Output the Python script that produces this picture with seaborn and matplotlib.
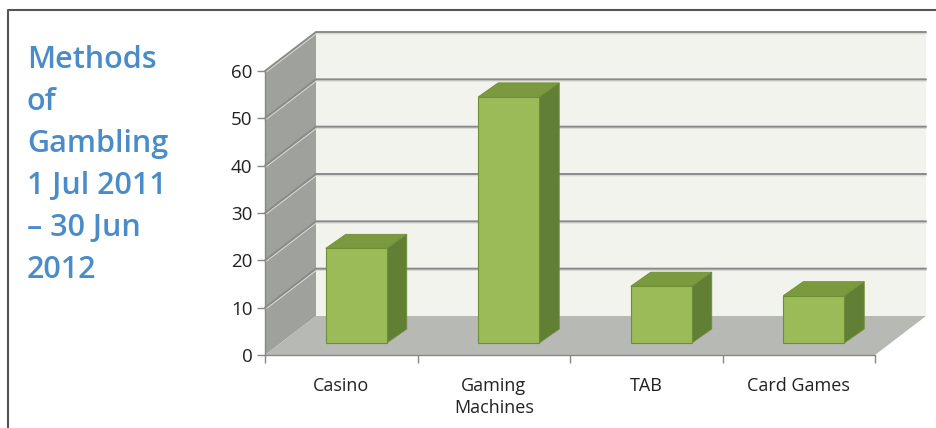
import numpy as np
import pandas as pd
import seaborn as sns
from matplotlib import pyplot as plt
from matplotlib.patches import Polygon
from matplotlib.transforms import IdentityTransform
from matplotlib.lines import Line2D

# Data.
methods = ["Casino", "Gaming\nMachines", "TAB", "Card Games"]
percent = [20, 52, 12, 10]
y_ticks = [0, 10, 20, 30, 40, 50, 60]
title_lines = ["Methods", "of", "Gambling", "1 Jul 2011", "\u2013 30 Jun", "2012"]

# Colours (Excel 2007 style 3D column).
FRONT = "#9bbb59"
TOP = "#7b9a40"
SIDE = "#627f36"
EDGE = "#6f8f35"
BACK_WALL = "#f1f3ec"
SIDE_WALL = "#9fa19d"
FLOOR = "#b7b9b5"
GRID = "#8a8a8a"
TITLE = "#4a8cca"

W, H, DPI = 936, 428, 100
WALL_DX, WALL_DY = 51, 39   # depth of the 3D box, pixels
BAR_DX, BAR_DY = 15, 12     # where the bars sit inside the box
TOP_DX, TOP_DY = 20, 14     # depth of each bar

sns.set_theme(style="white")
plt.rcParams["font.family"] = ["Open Sans", "DejaVu Sans"]

fig = plt.figure(figsize=(W / DPI, H / DPI), dpi=DPI)
ax = fig.add_axes([265 / W, (H - 355) / H, 610 / W, 284 / H])
ax.patch.set_visible(False)

df = pd.DataFrame({"method": methods, "percent": percent})
sns.barplot(data=df, x="method", y="percent", color=FRONT, width=0.4,
            saturation=1, ax=ax, zorder=5)
bars = list(ax.patches)

ax.set_xlim(-0.5, len(methods) - 0.5)
ax.set_ylim(0, 60)
ax.set_yticks(y_ticks)
ax.set_xlabel("")
ax.set_ylabel("")
for side in ["top", "right"]:
    ax.spines[side].set_visible(False)
for side in ["left", "bottom"]:
    ax.spines[side].set_color("#888888")
    ax.spines[side].set_linewidth(1.0)
ax.tick_params(axis="y", left=True, length=6, width=1, color="#888888",
               labelsize=13.5, pad=3, labelcolor="#222222")
ax.set_xticks(np.arange(-0.5, len(methods)), minor=True)
ax.tick_params(axis="x", which="minor", bottom=True, length=6, width=1, color="#888888")
ax.tick_params(axis="x", which="major", bottom=False, labelsize=13, pad=10,
               labelcolor="#222222")
for lab in ax.get_xticklabels():
    lab.set_linespacing(1.3)

fig.canvas.draw()
T = ax.transData
ident = IdentityTransform()


def add_poly(pts, color, z, ec="none", lw=0):
    p = Polygon(pts, closed=True, facecolor=color, edgecolor=ec, linewidth=lw,
                transform=ident, zorder=z, clip_on=False)
    ax.add_artist(p)


# The box: side wall, back wall, floor.
x0, x1 = ax.get_xlim()
fl, fr = T.transform((x0, 0)), T.transform((x1, 0))
tl = T.transform((x0, 60))
d = np.array([WALL_DX, WALL_DY])
add_poly([fl, fl + d, tl + d, tl], SIDE_WALL, 0)
add_poly([fl + d, fr + d, [fr[0] + WALL_DX, tl[1] + WALL_DY], tl + d], BACK_WALL, 0)
add_poly([fl, fr, fr + d, fl + d], FLOOR, 1)

for v in y_ticks[1:]:
    a = T.transform((x0, v))
    b = a + d
    c = np.array([fr[0] + WALL_DX, b[1]])
    ax.add_artist(Line2D([a[0], b[0], c[0]], [a[1] - 1.5, b[1] - 1.5, c[1] - 1.5],
                         color="#d8dad4", lw=1.2, transform=ident, zorder=2, clip_on=False))
    ax.add_artist(Line2D([a[0], b[0], c[0]], [a[1], b[1], c[1]], color=GRID, lw=1.4,
                         transform=ident, zorder=2, clip_on=False))

# Bars: move the seaborn faces into the box and give them a top and side.
for bar in bars:
    x, w, h = bar.get_x(), bar.get_width(), bar.get_height()
    bl = T.transform((x, 0)) + [BAR_DX, BAR_DY]
    br = T.transform((x + w, 0)) + [BAR_DX, BAR_DY]
    tr = T.transform((x + w, h)) + [BAR_DX, BAR_DY]
    tlb = T.transform((x, h)) + [BAR_DX, BAR_DY]
    bar.set_visible(False)
    e = np.array([TOP_DX, TOP_DY])
    add_poly([br, br + e, tr + e, tr], SIDE, 6, EDGE, 0.6)
    add_poly([tlb, tr, tr + e, tlb + e], TOP, 6, EDGE, 0.6)
    add_poly([bl, br, tr, tlb], FRONT, 7, EDGE, 0.8)

# Title block on the left.
for i, line in enumerate(title_lines):
    fig.text(27 / W, 1 - (60 + 42 * i) / H, line, color=TITLE, fontsize=22,
             fontweight="semibold", va="center", ha="left")

# Frame of the panel.
fig.add_artist(Line2D([8 / W, 8 / W, 1], [0, 1 - 10 / H, 1 - 10 / H],
                      color="#555555", lw=1.5, transform=fig.transFigure))

fig.savefig("out.png", dpi=DPI)
